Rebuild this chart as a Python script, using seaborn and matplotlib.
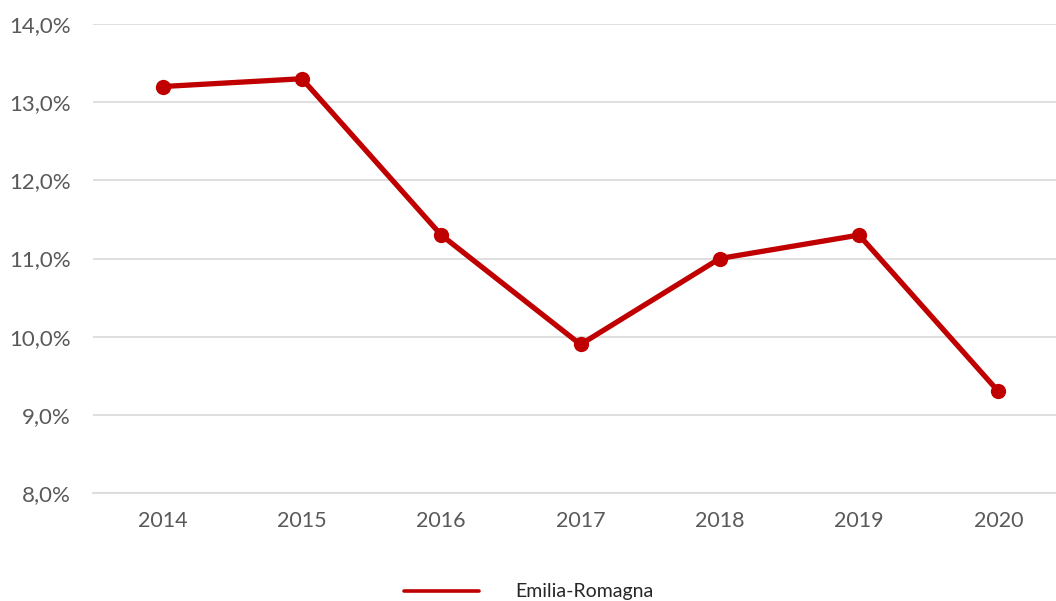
import matplotlib
matplotlib.use("Agg")
import matplotlib.pyplot as plt
import seaborn as sns
import pandas as pd
import numpy as np
from matplotlib.ticker import FixedLocator, FuncFormatter
from matplotlib.lines import Line2D

years = ["2014", "2015", "2016", "2017", "2018", "2019", "2020"]
values = [13.2, 13.3, 11.3, 9.9, 11.0, 11.3, 9.3]
series_name = "Emilia-Romagna"

sns.set_theme(style="white")
plt.rcParams['font.family'] = ['Lato', 'DejaVu Sans']

df = pd.DataFrame({"year": years, "value": values, "serie": series_name})

W, H = 1056, 601
fig = plt.figure(figsize=(W / 100, H / 100), dpi=100)
ax = fig.add_axes([93 / W, 1 - 493 / H, (1068 - 93) / W, (493 - 24) / H])

red = "#C00000"
sns.lineplot(data=df, x="year", y="value", hue="serie", palette=[red], ax=ax,
             linewidth=3.8, marker="o", markersize=11, markeredgewidth=0,
             sort=False, legend=False)

ax.set_ylim(8, 14)
ax.set_xlim(-0.5, len(years) - 0.5)
ax.set_yticks(np.arange(8, 14.01, 1))
ax.yaxis.set_major_formatter(FuncFormatter(lambda v, p: f"{v:.1f}".replace(".", ",") + "%"))
ax.grid(axis="y", color="#D9D9D9", linewidth=1.2)
ax.set_axisbelow(True)
for s in ["left", "right", "top"]:
    ax.spines[s].set_visible(False)
ax.spines["bottom"].set_color("#D9D9D9")
ax.spines["bottom"].set_linewidth(1.2)
ax.xaxis.set_minor_locator(FixedLocator(np.arange(-0.5, len(years), 1.0)))
ax.tick_params(axis="x", which="minor", length=6, width=1.2, color="#D9D9D9", direction="out")
ax.tick_params(axis="x", which="major", length=0, pad=13, labelsize=15.5, labelcolor="#595959")
ax.tick_params(axis="y", length=0, pad=16, labelsize=16, labelcolor="#595959")
ax.set_xlabel("")
ax.set_ylabel("")

handle = Line2D([], [], color=red, linewidth=2.6)
fig.legend([handle], [series_name], loc="center", bbox_to_anchor=(529 / W, 1 - 592 / H),
           frameon=False, fontsize=14, handlelength=3.85, handletextpad=1.85,
           labelcolor="#262626")

fig.savefig("out.png", dpi=100)
